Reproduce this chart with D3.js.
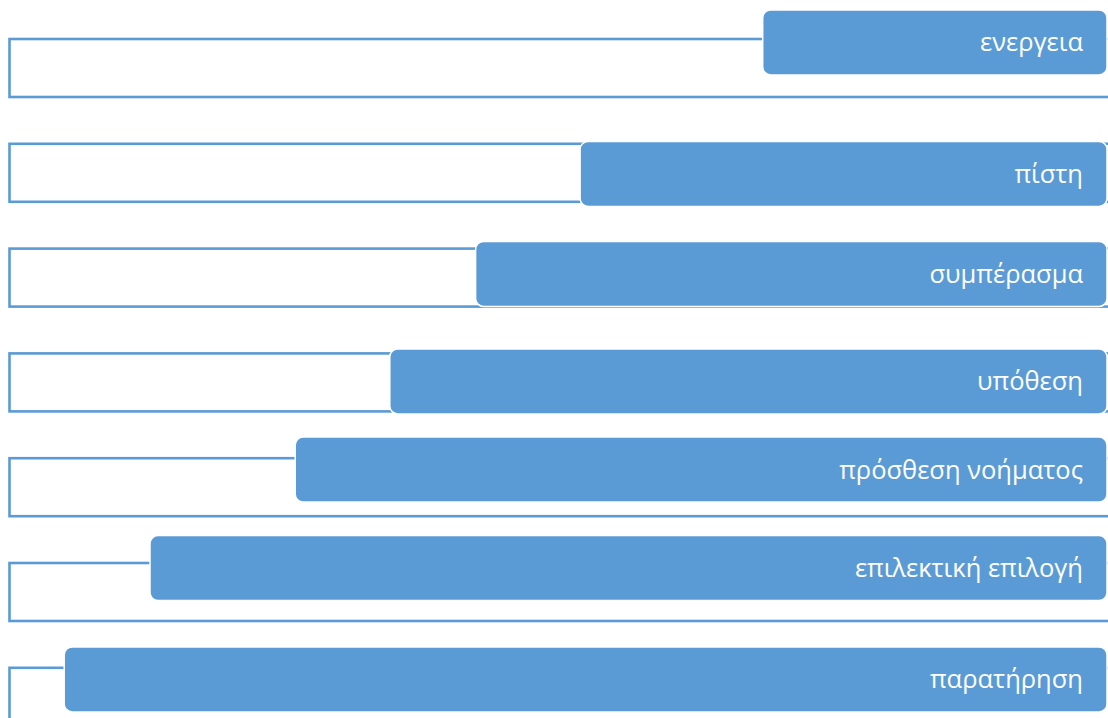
<!DOCTYPE html>
<html>
<head>
<meta charset="utf-8">
<script src="https://cdn.jsdelivr.net/npm/d3@7/dist/d3.min.js"></script>
<style>
html,body{margin:0;padding:0;background:#fff;overflow:hidden;}
</style>
</head>
<body>
<svg id="chart" width="1108" height="718"></svg>
<script>
// Data
const labels = ["ενεργεια","πίστη","συμπέρασμα","υπόθεση","πρόσθεση νοήματος","επιλεκτική επιλογή","παρατήρηση"];
const lengths = [31.3, 47.9, 57.4, 65.2, 73.8, 87.0, 94.8];      // box length (0-100)
const boxLevel = [0.033, 1.288, 2.242, 3.268, 4.108, 5.048, 6.111]; // vertical centre of box, in rows

const W = 1108, H = 718;
const svg = d3.select("#chart");
const blue = "#5B9BD5";

// scales
const x = d3.scaleLinear().domain([0, 100]).range([0, 1100]);
const rowY = d3.scaleLinear().domain([0, 7]).range([39, 39 + 7 * 104.8]);
const rowH = 58;
const boxH = 65;
const boxRight = 1107;
const leftX = 9.5;

const g = svg.append("g");

// outline brackets
g.selectAll("rect.outline").data(labels).join("rect")
  .attr("class", "outline")
  .attr("x", leftX)
  .attr("y", (d, i) => rowY(i))
  .attr("width", W + 20 - leftX)
  .attr("height", rowH)
  .attr("fill", "none")
  .attr("stroke", blue)
  .attr("stroke-width", 2.6);

// boxes
const boxes = g.selectAll("g.box").data(labels).join("g").attr("class", "box");
boxes.append("rect")
  .attr("x", (d, i) => boxRight - x(lengths[i]))
  .attr("y", (d, i) => rowY(boxLevel[i]) - boxH / 2)
  .attr("width", (d, i) => x(lengths[i]))
  .attr("height", boxH)
  .attr("rx", 8).attr("ry", 8)
  .attr("fill", blue)
  .attr("stroke", "#ffffff")
  .attr("stroke-width", 1.5);

boxes.append("text")
  .attr("x", boxRight - 24)
  .attr("y", (d, i) => rowY(boxLevel[i]) + 9)
  .attr("text-anchor", "end")
  .attr("fill", "#ffffff")
  .attr("font-family", "'Open Sans', 'Noto Sans', sans-serif")
  .attr("font-size", 25.5)
  .text(d => d);
</script>
</body>
</html>
